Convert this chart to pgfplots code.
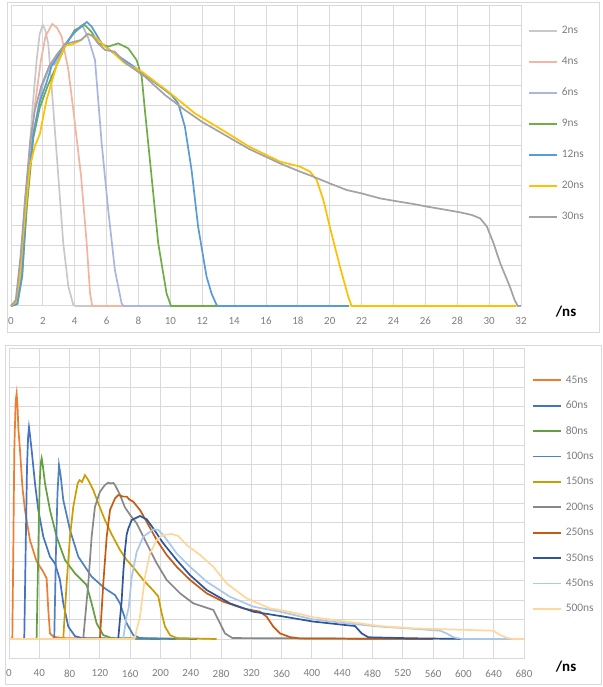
\documentclass[border=0pt]{standalone}
\usepackage{pgfplots}
\pgfplotsset{compat=1.18}
\usepackage{fontspec}
\setmainfont{Carlito}
\definecolor{gridc}{HTML}{D9D9D9}
\definecolor{tickc}{HTML}{7F7F7F}
\definecolor{cA}{HTML}{C9C9C9}
\definecolor{cB}{HTML}{F2B5A0}
\definecolor{cC}{HTML}{A9B7DE}
\definecolor{cD}{HTML}{70AD47}
\definecolor{cE}{HTML}{5B9BD5}
\definecolor{cF}{HTML}{FFC000}
\definecolor{cG}{HTML}{A3A3A3}
\definecolor{dA}{HTML}{ED7D31}
\definecolor{dB}{HTML}{4472C4}
\definecolor{dC}{HTML}{62A03F}
\definecolor{dD}{HTML}{4E81BD}
\definecolor{dE}{HTML}{CC9C00}
\definecolor{dF}{HTML}{888888}
\definecolor{dG}{HTML}{C55A11}
\definecolor{dH}{HTML}{2F559A}
\definecolor{dI}{HTML}{A9C8EA}
\definecolor{dJ}{HTML}{FFD79C}
\pgfplotsset{
  mystyle/.style={
    scale only axis, clip=false,
    grid=major, major grid style={gridc, line width=1bp},
    axis line style={gridc, line width=1bp},
    tick style={draw=none},
    yticklabel={\hbox{}},
    ticklabel style={font=\fontsize{11}{11}\selectfont, text=tickc},
    /pgf/number format/assume math mode=true,
    xticklabel style={anchor=center, yshift=-15bp},
    every axis plot/.append style={line width=1.7bp, mark=none},
    legend cell align=left,
    legend image code/.code={\draw[##1, line width=1.8bp] (0bp,0bp) -- (28bp,0bp);},
  }
}
\begin{document}
\begin{tikzpicture}
\useasboundingbox (0,0) rectangle (603bp,687bp);
\fill[white] (0,0) rectangle (603bp,687bp);
\draw[gridc, line width=1bp] (7bp,354bp) rectangle (599bp,684bp);
\draw[gridc, line width=1bp] (5bp,2bp) rectangle (601bp,341bp);
% ---------------- top panel
\begin{axis}[mystyle, at={(11bp,381bp)}, anchor=south west,
  width=510bp, height=300bp,
  xmin=0, xmax=32, ymin=0, ymax=15,
  xtick={0,2,...,32}, ytick={0,1,...,15},
  legend style={at={(1.0137,0.9367)}, anchor=north west, draw=none, fill=none,
    inner sep=0pt, outer sep=0pt, row sep=19bp, column sep=4bp,
    font=\fontsize{11.5}{11.5}\selectfont, text=tickc,
    nodes={inner sep=0pt, text height=9bp, text depth=3bp}},
]
\addplot[cA] coordinates {(0,0)(0.25,0.1)(0.63,1.47)(0.92,4.8)(1.13,7.3)(1.34,9.8)(1.61,12.3)(1.8,13.6)(1.99,14.05)(2.15,13.8)(2.34,13.1)(2.66,9.8)(2.97,6.47)(3.28,3.13)(3.6,0.97)(3.91,0.05)(4.06,0)(21.15,0)};
\addlegendentry{2ns}
\addplot[cB] coordinates {(0,0)(0.3,0.1)(0.63,1.5)(0.92,4.8)(1.19,7.3)(1.46,9.8)(1.88,12.3)(2.17,13.5)(2.59,14.1)(2.9,13.9)(3.18,13.47)(3.6,11.8)(3.91,9.8)(4.4,6.47)(4.75,3.13)(4.96,0.63)(5.1,0)(21.15,0)};
\addlegendentry{4ns}
\addplot[cC] coordinates {(0,0)(0.35,0.2)(0.6,1.5)(0.88,5.3)(1.4,8.6)(2.0,11.1)(2.44,12)(2.75,12.1)(3.4,13.1)(4.0,13.7)(4.5,14.0)(4.85,13.4)(5.27,12.3)(5.69,8.13)(6.1,4.8)(6.52,1.8)(6.94,0.13)(7.06,0)(21.15,0)};
\addlegendentry{6ns}
\addplot[cD] coordinates {(0,0)(0.4,0.1)(0.7,1.5)(1.0,5.0)(1.4,8.4)(1.8,9.9)(2.3,11.0)(2.85,12)(3.4,13.0)(4.0,13.8)(4.63,14.05)(5.06,13.7)(5.48,13.13)(6.1,12.97)(6.73,13.13)(7.36,12.88)(7.88,12.3)(8.2,11.47)(8.4,9.8)(8.82,6.47)(9.24,3.13)(9.76,0.63)(10.04,0)(21.2,0)};
\addlegendentry{9ns}
\addplot[cE] coordinates {(0,0)(0.4,0.1)(0.7,1.5)(0.98,5.3)(1.4,8.6)(1.8,10.2)(2.2,11.1)(2.55,12)(3.17,12.8)(3.9,13.6)(4.4,14.0)(4.77,14.2)(5.06,13.97)(5.69,13.13)(6.32,12.72)(7.57,12.05)(8.82,11.3)(10.07,10.55)(10.49,10.13)(10.91,8.97)(11.33,6.8)(11.74,3.97)(12.27,1.47)(12.58,0.63)(12.9,0.05)(13.0,0)(21.1,0)};
\addlegendentry{12ns}
\addplot[cF] coordinates {(0,0)(0.3,0.2)(0.55,1.5)(0.77,3.6)(1.0,5.5)(1.19,7.0)(1.5,8.0)(1.81,8.6)(2.23,10.3)(2.85,12)(3.38,13.0)(3.9,13.1)(4.4,13.3)(4.83,13.6)(5.35,13.4)(5.9,12.97)(6.5,12.6)(7.15,12.13)(8.2,11.72)(9.87,10.72)(11.54,9.63)(13.42,8.72)(14.94,7.97)(16.88,7.22)(18.13,6.97)(18.76,6.72)(19.18,6.3)(19.6,5.3)(20.0,3.97)(20.64,1.97)(21.16,0.47)(21.37,0)(31.7,0)};
\addlegendentry{20ns}
\addplot[cG] coordinates {(0,0)(0.3,0.3)(0.6,2.5)(0.9,5.5)(1.2,8.2)(1.5,9.8)(1.9,11)(2.4,12)(2.9,12.6)(3.4,13.1)(3.9,13.2)(4.4,13.3)(4.8,13.6)(5.06,13.55)(5.5,13.1)(5.9,12.8)(6.5,12.72)(7.0,12.3)(7.36,12.05)(8.4,11.47)(9.66,10.55)(10.91,9.8)(12.0,9.2)(13.42,8.55)(14.94,7.85)(16.88,7.13)(18.13,6.72)(18.96,6.47)(20,6.13)(21.06,5.8)(22,5.63)(23.16,5.38)(24.1,5.25)(25.25,5.1)(26.1,4.97)(27.35,4.8)(28.19,4.68)(28.92,4.55)(29.44,4.38)(29.86,3.97)(30.28,3.13)(30.7,2.13)(31.3,0.97)(31.6,0.3)(31.8,0)(32,0)};
\addlegendentry{30ns}
\end{axis}
\node[font=\bfseries\fontsize{15}{15}\selectfont, text=black] at (566bp,375bp) {/ns};
% ---------------- bottom panel
\begin{axis}[mystyle, at={(9bp,28.6bp)}, anchor=south west,
  width=515bp, height=310bp,
  xmin=0, xmax=680, ymin=-1, ymax=15,
  xtick={0,40,...,680}, ytick={-1,0,...,15},
  legend style={at={(1.0155,0.9165)}, anchor=north west, draw=none, fill=none,
    inner sep=0pt, outer sep=0pt, row sep=13.4bp, column sep=4bp,
    font=\fontsize{11.5}{11.5}\selectfont, text=tickc,
    nodes={inner sep=0pt, text height=9bp, text depth=3bp}},
]
\addplot[dA] coordinates {(0,0)(3.5,0)(4.4,0.1)(5.7,4.6)(7.0,9.75)(8.8,12.3)(10.1,12.68)(11.3,12.0)(12.3,10.9)(14.5,9.75)(17.8,7.8)(21.1,6.66)(27.7,5.1)(36.5,4.0)(45.3,3.47)(49.7,3.13)(51.9,1.5)(54.1,0.29)(58.5,0.12)(70,0.05)(150,0)};
\addlegendentry{45ns}
\addplot[dB] coordinates {(0,0)(19.5,0)(20.2,0.1)(22.0,4.6)(23.8,8.9)(25.2,10.4)(26.4,10.93)(27.5,10.6)(29.9,9.75)(34.3,8.04)(38.7,6.66)(45.3,5.28)(54.1,4.25)(60.7,3.9)(67.3,3.05)(71.7,1.84)(78.3,0.64)(87.1,0.15)(96,0.05)(200,0)};
\addlegendentry{60ns}
\addplot[dC] coordinates {(0,0)(35.8,0)(36.5,0.1)(38.7,4.6)(40.5,8.04)(42.0,9.1)(43.1,9.33)(44.5,9.0)(47.5,8.04)(54.1,6.66)(62.9,5.28)(73.9,4.08)(87.1,3.39)(102.5,2.79)(109.1,1.84)(115.7,0.81)(124.5,0.2)(135.5,0.05)(220,0)};
\addlegendentry{80ns}
\addplot[dD] coordinates {(0,0)(59,0)(59.8,0.1)(62,4.5)(64,7.5)(66.0,8.98)(68,8.5)(71.7,7.17)(80.5,5.63)(91.5,4.25)(109.1,3.22)(126.7,2.61)(140,2.27)(146.5,1.84)(155.4,0.81)(164.1,0.2)(172.9,0.05)(248,0)};
\addlegendentry{100ns}
\addplot[dE] coordinates {(0,0)(71,0)(71.7,0.05)(76.1,2.87)(80.5,5.28)(84.9,6.83)(90.7,8.04)(93.3,8.2)(96.4,8.1)(100.3,8.46)(104.7,8.2)(111.3,7.69)(117.9,7.0)(126.7,6.14)(135.6,5.4)(146.5,4.6)(155,4.1)(164.1,3.7)(177.3,3.05)(190.5,2.5)(197.1,2.2)(201.6,1.33)(206,0.64)(212.6,0.2)(221.4,0.05)(274,0)};
\addlegendentry{150ns}
\addplot[dF] coordinates {(0,0)(97.5,0)(98.1,0.05)(104.7,2.87)(109.1,5.28)(113.5,6.83)(120.1,7.6)(126.7,7.95)(131,8.07)(133.3,8.04)(138,8.05)(140,7.95)(146.5,7.45)(153,6.8)(160,6.4)(168.6,5.97)(181.8,4.94)(195,3.91)(208.2,3.05)(225.8,2.36)(243.4,1.84)(269.8,1.5)(278.6,0.81)(285.2,0.29)(295,0.05)(560,0)};
\addlegendentry{200ns}
\addplot[dG] coordinates {(0,0)(119.5,0)(120.1,0.05)(124.5,2.87)(129,5.28)(133.4,6.66)(140,7.26)(144.3,7.43)(150.9,7.35)(155.4,7.35)(159,7.2)(164.1,7.09)(172.9,6.66)(181.8,6.05)(195,5.11)(208.2,4.34)(221.4,3.73)(239,3.05)(261,2.36)(282.9,1.93)(309.3,1.58)(331.4,1.41)(340.2,1.15)(349,0.64)(357.8,0.29)(371,0.1)(384,0.03)(560,0)};
\addlegendentry{250ns}
\addplot[dH] coordinates {(0,0)(143.5,0)(144.3,0.05)(148.8,2.0)(151,3.5)(153.2,4.6)(155.4,5.4)(157.5,5.7)(162,6.14)(172.9,6.35)(181.8,6.18)(190.5,5.71)(203.7,4.94)(221.4,4.08)(239,3.3)(261,2.53)(291.8,1.84)(322.6,1.41)(357.8,1.19)(401.8,0.9)(456.8,0.67)(465.7,0.29)(474.4,0.09)(530,0.04)(605,0)};
\addlegendentry{350ns}
\addplot[dI] coordinates {(0,0)(150,0)(150.9,0.05)(155.4,1.2)(158,1.6)(162,3.2)(168.6,4.5)(177.3,5.28)(190.5,5.66)(197.1,5.63)(203.7,5.37)(221.4,4.42)(239,3.73)(261,2.96)(291.8,2.18)(322.6,1.67)(357.8,1.41)(401.8,1.01)(445.6,0.81)(489.8,0.64)(533.8,0.53)(569,0.43)(577.9,0.29)(586.7,0.09)(598,0)(680,0)};
\addlegendentry{450ns}
\addplot[dJ] coordinates {(0,0)(165.5,0)(166.4,0.12)(172.9,1.15)(179.6,3.22)(186.2,4.42)(195,5.11)(203.7,5.37)(214.8,5.42)(223.5,5.32)(234.6,4.85)(252.2,4.34)(269.8,3.73)(287.4,2.87)(313.8,2.1)(344.6,1.58)(357.8,1.5)(384.2,1.29)(401.8,1.12)(445.6,0.9)(489.8,0.67)(533.8,0.55)(577.9,0.5)(639.5,0.43)(648.3,0.21)(657.1,0.07)(666,0)(680,0)};
\addlegendentry{500ns}
\end{axis}
\node[font=\bfseries\fontsize{15}{15}\selectfont, text=black] at (566bp,20bp) {/ns};
\end{tikzpicture}
\end{document}
